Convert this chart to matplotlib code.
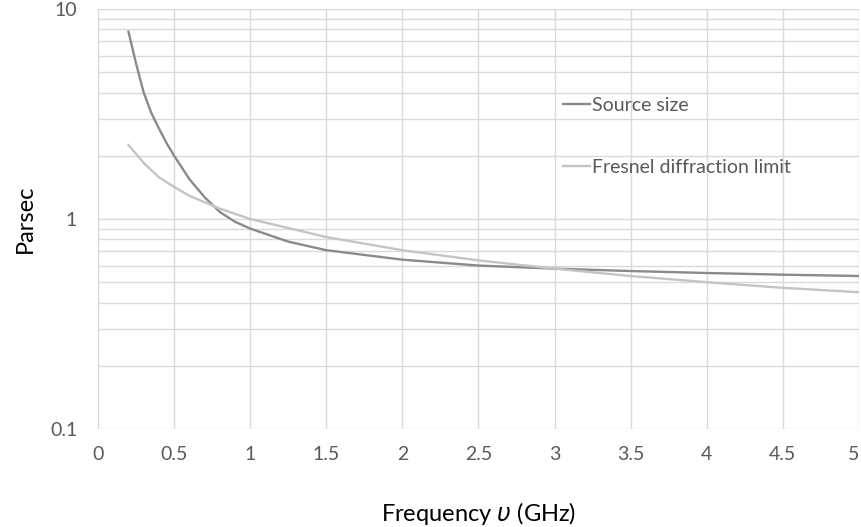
import matplotlib
matplotlib.use("Agg")
import matplotlib.pyplot as plt
from matplotlib.ticker import FixedLocator, NullFormatter, NullLocator

# frequency (GHz) and values
freq_source = [0.2, 0.25, 0.3, 0.35, 0.4, 0.45, 0.5, 0.6, 0.7, 0.8, 0.9, 1.0, 1.25, 1.5, 2.0, 2.5, 3.0, 3.5, 4.0, 4.5, 5.0]
source_size = [7.8, 5.5, 4.0, 3.2, 2.7, 2.3, 2.0, 1.55, 1.27, 1.08, 0.97, 0.90, 0.78, 0.71, 0.64, 0.60, 0.58, 0.565, 0.553, 0.543, 0.535]

freq_fresnel = [0.2, 0.3, 0.4, 0.5, 0.6, 0.8, 1.0, 1.5, 2.0, 2.5, 3.0, 3.5, 4.0, 4.5, 5.0]
fresnel_limit = [2.25, 1.85, 1.58, 1.42, 1.29, 1.12, 1.0, 0.82, 0.71, 0.635, 0.58, 0.535, 0.50, 0.47, 0.448]

x_ticks = [0, 0.5, 1, 1.5, 2, 2.5, 3, 3.5, 4, 4.5, 5]
x_labels = ["0", "0.5", "1", "1.5", "2", "2.5", "3", "3.5", "4", "4.5", "5"]
y_ticks = [0.1, 1, 10]
y_labels = ["0.1", "1", "10"]

plt.rcParams['font.family'] = ['Lato', 'DejaVu Sans']

fig = plt.figure(figsize=(8.62, 5.27), dpi=100)
ax = fig.add_axes([0.1137, 0.186, 0.8828, 0.797])

ax.plot(freq_source, source_size, color='#8a8a8a', lw=1.7, label='Source size')
ax.plot(freq_fresnel, fresnel_limit, color='#c4c4c4', lw=1.7, label='Fresnel diffraction limit')

ax.set_yscale('log')
ax.set_xlim(0, 5)
ax.set_ylim(0.1, 10)

ax.set_xticks(x_ticks)
ax.set_xticklabels(x_labels)
ax.get_xticklabels()[-1].set_horizontalalignment('right')
ax.yaxis.set_major_locator(FixedLocator(y_ticks))
ax.set_yticklabels(y_labels)
minor = [m * 10.0 ** e for e in (-1, 0) for m in range(2, 10)]
ax.yaxis.set_minor_locator(FixedLocator(minor))
ax.yaxis.set_minor_formatter(NullFormatter())
ax.xaxis.set_minor_locator(NullLocator())

ax.grid(True, which='both', color='#d9d9d9', lw=1)
ax.set_axisbelow(True)
for s in ax.spines.values():
    s.set_visible(False)
ax.tick_params(which='both', length=0, labelsize=14, colors='#595959')
ax.tick_params(axis='x', pad=12)
ax.tick_params(axis='y', pad=15)

ax.set_ylabel('Parsec', fontsize=17, color='black', labelpad=10)
ax.set_xlabel(r'Frequency $\upsilon$ (GHz)', fontsize=17, color='black', labelpad=27)

ax.legend(loc='upper left', bbox_to_anchor=(0.611, 0.79), frameon=False,
          fontsize=14, labelcolor='#595959', handlelength=1.4, handletextpad=0.1,
          labelspacing=2.3, borderpad=0, borderaxespad=0)

fig.savefig('out.png', dpi=100)
